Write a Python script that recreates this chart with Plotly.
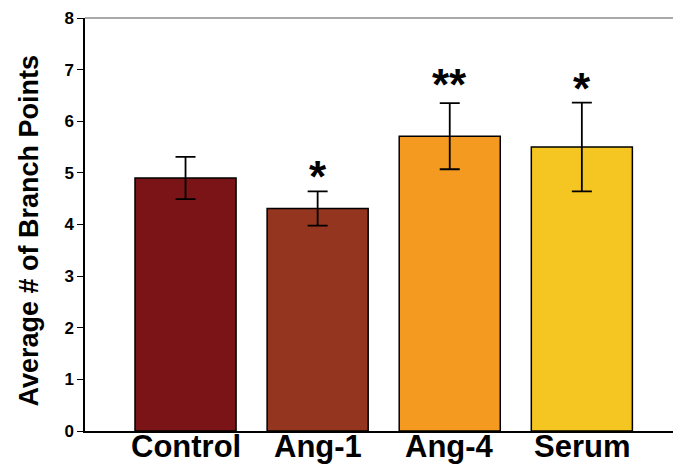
import plotly.graph_objects as go

categories = ["Control", "Ang-1", "Ang-4", "Serum"]
means = [4.9, 4.31, 5.71, 5.5]
errors = [0.41, 0.33, 0.64, 0.86]
colors = ["#7B1416", "#943520", "#F49A20", "#F5C521"]
stars = ["", "*", "**", "*"]
y_ticks = [0, 1, 2, 3, 4, 5, 6, 7, 8]
y_title = "Average # of Branch Points"

FONT = "Liberation Sans, Arial, sans-serif"

fig = go.Figure()
fig.add_trace(go.Bar(
    x=list(range(len(categories))), y=means,
    width=0.765,
    marker=dict(color=colors, line=dict(color="black", width=1.5)),
    error_y=dict(type="data", array=errors, visible=True, color="black", thickness=1.8, width=10),
))

for i, (s, m, e) in enumerate(zip(stars, means, errors)):
    if s:
        fig.add_annotation(x=i, y=m + e, text="<b>%s</b>" % s, showarrow=False,
                           yanchor="bottom", yshift=-12 if len(s) == 1 else -8,
                           font=dict(family=FONT, size=44, color="black"))

for i, c in enumerate(categories):
    fig.add_annotation(x=i, y=0, xref="x", yref="paper", text="<b>%s</b>" % c,
                       showarrow=False, yanchor="top", yshift=4,
                       font=dict(family=FONT, size=31, color="black"))

# y-axis title as rotated annotation
fig.add_annotation(x=0, y=0.5, xref="paper", yref="paper", text="<b>%s</b>" % y_title,
                   showarrow=False, textangle=-90, xanchor="center", yanchor="middle",
                   xshift=-57, yshift=-6,
                   font=dict(family=FONT, size=27, color="black"))

fig.add_shape(type="line", xref="paper", yref="paper", x0=0, x1=1, y0=1, y1=1,
              line=dict(color="#555555", width=1.2))

fig.update_layout(
    width=673, height=464,
    margin=dict(l=85, r=0, t=18, b=33),
    plot_bgcolor="white", paper_bgcolor="white",
    showlegend=False,
    font=dict(family=FONT, color="black"),
    xaxis=dict(
        range=[-0.761, 3.69],
        showticklabels=False,
        showline=True, linecolor="black", linewidth=1.5,
        ticks="", showgrid=False, zeroline=False,
        automargin=False,
    ),
    yaxis=dict(
        range=[0, 8], tickvals=y_ticks,
        ticktext=["<b>%d</b>" % t for t in y_ticks],
        tickfont=dict(size=17, family=FONT, color="black"),
        showline=True, linecolor="black", linewidth=1.5,
        ticks="outside", ticklen=6, tickwidth=1.2, tickcolor="black",
        showgrid=False, zeroline=False, automargin=False,
    ),
)

fig.write_html("out.html")
